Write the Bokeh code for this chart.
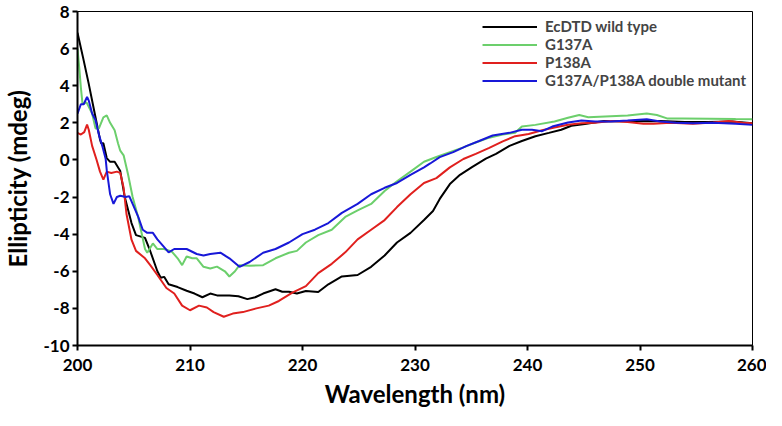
from bokeh.plotting import figure
from bokeh.models import Range1d, FixedTicker, Legend, LegendItem
from bokeh.embed import file_html
from bokeh.resources import INLINE

# ---- data ----
wt_x = [200.0, 200.5, 201.0, 201.5, 202.0, 202.1, 202.3, 202.6, 202.9, 203.3, 203.8, 204.2, 204.8,
        205.2, 206.0, 206.4, 207.1, 207.4, 207.7, 208.1, 208.9, 209.7, 210.4, 211.1, 211.8, 212.4,
        213.5, 214.3, 215.1, 215.8, 216.5, 217.6, 218.2, 218.8, 219.5, 220.3, 221.4, 222.3, 223.5,
        224.9, 226.1, 227.3, 228.4, 229.6, 230.8, 231.6, 232.2, 233.1, 234.0, 235.1, 236.3, 237.2,
        238.4, 239.5, 240.7, 241.9, 243.0, 243.9, 245.1, 246.8, 249.0, 251.8, 254.0, 256.0, 258.2, 260.0]
wt_y = [6.85, 5.5, 4.1, 2.6, 1.1, 0.9, 0.9, 0.1, -0.1, -0.1, -0.6, -2.0, -3.4,
        -4.05, -4.2, -4.8, -6.0, -6.35, -6.3, -6.7, -6.85, -7.05, -7.2, -7.4, -7.2, -7.3,
        -7.3, -7.35, -7.5, -7.4, -7.2, -6.97, -7.1, -7.1, -7.2, -7.06, -7.12, -6.7, -6.28,
        -6.2, -5.76, -5.15, -4.45, -3.93, -3.24, -2.75, -2.1, -1.3, -0.8, -0.37, 0.07, 0.33,
        0.76, 1.02, 1.28, 1.46, 1.63, 1.84, 1.94, 2.1, 2.08, 2.1, 2.05, 2.05, 2.07, 1.98]

g_x = [200.0, 200.15, 200.3, 200.45, 200.8, 201.3, 201.6, 201.9, 202.3, 202.6, 202.9, 203.3, 203.6,
       203.8, 204.1, 204.5, 204.9, 205.4, 206.0, 206.2, 206.7, 207.1, 207.7, 208.4, 208.9, 209.3,
       209.7, 210.2, 210.6, 211.2, 211.8, 212.4, 213.1, 213.5, 214.0, 214.4, 215.3, 216.5, 217.6,
       218.8, 219.5, 220.3, 221.4, 222.6, 223.8, 224.9, 226.1, 227.3, 228.4, 229.6, 230.8, 231.9,
       233.1, 234.3, 235.4, 236.6, 237.8, 238.9, 239.5, 240.7, 242.4, 243.6, 244.6, 245.4, 247.4,
       248.9, 250.6, 251.5, 252.4, 253.8, 256.2, 258.5, 260.0]
g_y = [6.0, 5.0, 3.9, 3.0, 3.1, 2.5, 1.7, 1.7, 2.3, 2.4, 2.0, 1.6, 0.9,
       0.5, 0.25, -0.8, -2.0, -3.1, -4.8, -5.0, -4.5, -4.8, -4.8, -4.95, -5.3, -5.67,
       -5.2, -5.3, -5.3, -5.76, -5.85, -5.75, -6.0, -6.28, -6.0, -5.67, -5.7, -5.67, -5.3,
       -5.0, -4.9, -4.45, -4.05, -3.76, -3.07, -2.72, -2.37, -1.67, -1.15, -0.63, -0.1, 0.16,
       0.42, 0.68, 0.94, 1.2, 1.37, 1.46, 1.8, 1.89, 2.07, 2.27, 2.42, 2.3, 2.36,
       2.4, 2.5, 2.42, 2.24, 2.24, 2.22, 2.2, 2.19]

r_x = [200.0, 200.3, 200.6, 200.85, 201.0, 201.3, 201.7, 202.0, 202.3, 202.6, 203.0, 203.5, 203.8,
       204.1, 204.35, 204.8, 205.2, 206.0, 206.5, 207.1, 207.9, 208.6, 209.3, 210.0, 210.8, 211.5,
       212.1, 213.0, 213.8, 214.7, 215.9, 217.0, 217.9, 219.1, 220.3, 221.4, 222.6, 223.8, 224.9,
       226.1, 227.3, 228.4, 229.6, 230.8, 231.9, 233.1, 234.3, 235.4, 236.6, 237.8, 238.9, 240.1,
       241.3, 242.4, 243.6, 244.8, 246.0, 247.4, 248.9, 250.3, 251.2, 252.7, 254.7, 256.5, 257.9,
       259.1, 260.0]
r_y = [1.46, 1.37, 1.5, 1.9, 1.63, 0.76, 0.0, -0.63, -1.06, -0.63, -0.7, -0.63, -0.7,
       -1.5, -2.9, -4.3, -4.9, -5.3, -5.7, -6.2, -6.9, -7.2, -7.85, -8.1, -7.85, -7.95,
       -8.2, -8.45, -8.28, -8.2, -8.0, -7.85, -7.6, -7.15, -6.8, -6.1, -5.6, -4.98, -4.28,
       -3.76, -3.24, -2.54, -1.85, -1.24, -0.98, -0.4, 0.05, 0.33, 0.65, 1.0, 1.28, 1.4,
       1.6, 1.75, 1.9, 1.98, 2.0, 2.1, 2.05, 1.95, 1.95, 2.0, 1.95, 2.02, 2.1,
       2.0, 1.98]

b_x = [200.0, 200.3, 200.55, 200.85, 201.0, 201.3, 201.6, 201.9, 202.2, 202.5, 202.6, 202.9, 203.2,
       203.5, 203.8, 204.3, 204.6, 204.9, 205.4, 205.8, 206.2, 206.7, 207.1, 207.7, 208.1, 208.6,
       209.2, 209.7, 210.6, 211.2, 211.8, 212.7, 213.5, 214.4, 215.3, 216.5, 217.6, 218.8, 220.0,
       221.1, 222.3, 223.5, 224.9, 226.1, 227.3, 228.4, 229.6, 230.8, 231.35, 232.2, 233.4, 234.6,
       235.7, 236.9, 238.4, 239.5, 240.4, 241.3, 242.2, 243.6, 244.8, 246.0, 247.4, 248.9, 250.6,
       251.8, 253.2, 254.7, 256.5, 258.5, 260.0]
b_y = [2.5, 3.0, 3.0, 3.4, 3.2, 2.5, 2.15, 1.37, 0.76, 0.07, -0.55, -1.85, -2.37,
       -2.0, -1.93, -2.0, -1.95, -2.37, -3.07, -3.76, -3.93, -3.93, -4.28, -4.7, -4.98, -4.8,
       -4.8, -4.8, -5.07, -5.15, -5.07, -5.0, -5.3, -5.76, -5.5, -5.0, -4.8, -4.45, -4.0,
       -3.76, -3.4, -2.85, -2.37, -1.85, -1.5, -1.24, -0.8, -0.4, -0.19, 0.15, 0.42, 0.76,
       1.02, 1.32, 1.46, 1.63, 1.63, 1.55, 1.8, 2.02, 2.12, 2.07, 2.07, 2.12, 2.19,
       2.07, 2.0, 1.98, 2.0, 1.95, 1.89]

labels = ["EcDTD wild type", "G137A", "P138A", "G137A/P138A double mutant"]
colors = ["#000000", "#6CCF6C", "#E0201E", "#1818D8"]
x_ticks = [200, 210, 220, 230, 240, 250, 260]
y_ticks = [-10, -8, -6, -4, -2, 0, 2, 4, 6, 8]

FONT = "Lato"

p = figure(width=766, height=410, output_backend="svg", toolbar_location=None,
           x_range=Range1d(200, 260), y_range=Range1d(-10, 8),
           min_border_left=70, min_border_right=14, min_border_top=11, min_border_bottom=56)
p.background_fill_color = "white"
p.border_fill_color = "white"
p.outline_line_color = "black"
p.outline_line_width = 1
p.xgrid.visible = False
p.ygrid.visible = False

renderers = []
for xs, ys, c in [(wt_x, wt_y, colors[0]), (g_x, g_y, colors[1]), (r_x, r_y, colors[2]), (b_x, b_y, colors[3])]:
    renderers.append(p.line(xs, ys, line_color=c, line_width=2))

for ax in (p.xaxis[0], p.yaxis[0]):
    ax.axis_line_width = 2
    ax.axis_line_color = "black"
    ax.major_tick_line_width = 2
    ax.major_tick_in = 0
    ax.major_tick_out = 5
    ax.minor_tick_line_color = None
    ax.major_label_text_font = FONT
    ax.major_label_text_font_style = "bold"
    ax.major_label_text_font_size = "17px"
    ax.major_label_text_color = "black"
    ax.axis_label_text_font = FONT
    ax.axis_label_text_font_style = "bold"
    ax.axis_label_text_font_size = "24px"
    ax.axis_label_text_color = "black"

p.xaxis[0].ticker = FixedTicker(ticks=x_ticks)
p.yaxis[0].ticker = FixedTicker(ticks=y_ticks)
p.xaxis[0].major_label_overrides = {t: str(t) for t in x_ticks}
p.yaxis[0].major_label_overrides = {t: str(t) for t in y_ticks}
p.xaxis[0].axis_label = "Wavelength (nm)"
p.yaxis[0].axis_label = "Ellipticity (mdeg)"
p.xaxis[0].major_label_standoff = 8
p.xaxis[0].axis_label_standoff = 5
p.yaxis[0].major_label_standoff = 3
p.yaxis[0].axis_label_standoff = 8

legend = Legend(items=[LegendItem(label=l, renderers=[r]) for l, r in zip(labels, renderers)],
                location="top_right")
legend.border_line_color = None
legend.background_fill_alpha = 0
legend.label_text_font = FONT
legend.label_text_font_style = "bold"
legend.label_text_font_size = "15px"
legend.glyph_width = 55
legend.glyph_height = 17
legend.label_height = 17
legend.spacing = 0
legend.padding = 4
legend.margin = 6
legend.label_standoff = 8
p.add_layout(legend)

open("out.html", "w").write(file_html(p, INLINE))
